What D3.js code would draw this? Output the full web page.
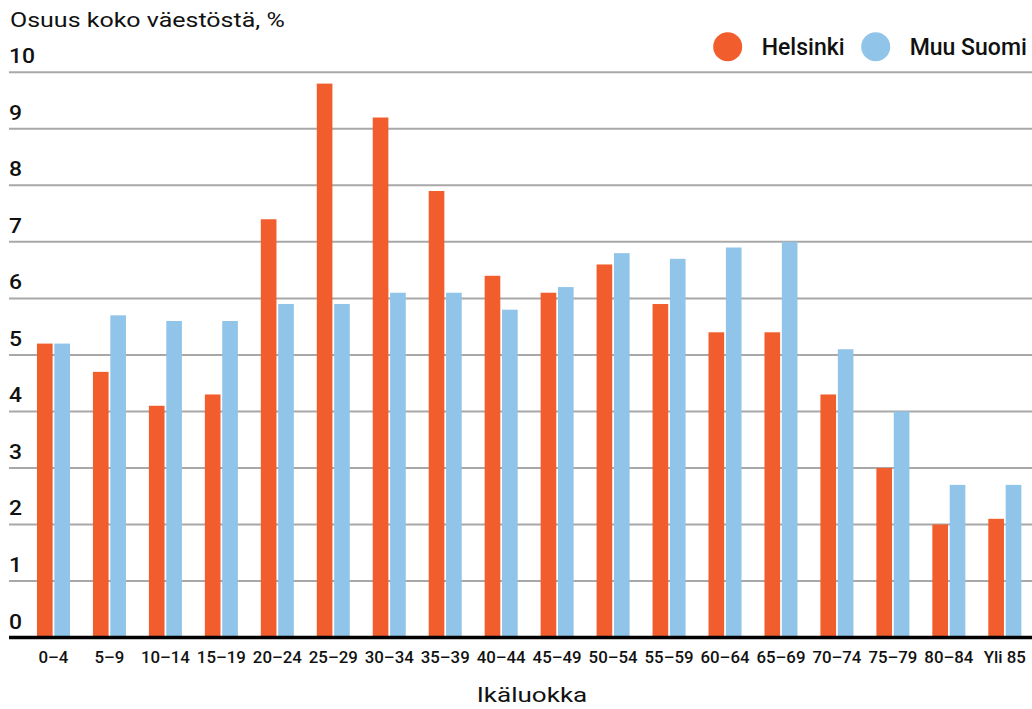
<!DOCTYPE html>
<html>
<head>
<meta charset="utf-8">
<script src="https://cdn.jsdelivr.net/npm/d3@7"></script>
<style>
  html, body { margin: 0; padding: 0; background: #fff; }
  svg { display: block; font-family: Roboto, "Noto Sans", sans-serif; }
</style>
</head>
<body>
<svg id="chart" width="1032" height="709"></svg>
<script>
const categories = ["0–4","5–9","10–14","15–19","20–24","25–29","30–34","35–39","40–44","45–49","50–54","55–59","60–64","65–69","70–74","75–79","80–84","Yli 85"];
const seriesNames = ["Helsinki", "Muu Suomi"];
const helsinki = [5.2,4.7,4.1,4.3,7.4,9.8,9.2,7.9,6.4,6.1,6.6,5.9,5.4,5.4,4.3,3.0,2.0,2.1];
const muuSuomi = [5.2,5.7,5.6,5.6,5.9,5.9,6.1,6.1,5.8,6.2,6.8,6.7,6.9,7.0,5.1,4.0,2.7,2.7];
const yTicks = [0,1,2,3,4,5,6,7,8,9,10];
const colors = ["#f15d2d", "#90c4e9"];

const svg = d3.select("#chart");
const y = d3.scaleLinear().domain([0, 10]).range([637.5, 72.3]);
const x0 = d3.scaleBand().domain(categories).range([25.5, 1032.8]).paddingInner(0.41).paddingOuter(0.205);
const x1 = d3.scaleBand().domain(seriesNames).range([0, x0.bandwidth()]).paddingInner(0.1);
const color = d3.scaleOrdinal().domain(seriesNames).range(colors);

// widen text horizontally by a factor, keeping the glyph height
function stretch(sel, f) {
  sel.each(function () {
    const len = this.getComputedTextLength();
    d3.select(this).attr("textLength", len * f).attr("lengthAdjust", "spacingAndGlyphs");
  });
}

// gridlines
svg.append("g").selectAll("line").data(yTicks.filter(d => d > 0)).join("line")
  .attr("x1", 9).attr("x2", 1032)
  .attr("y1", d => y(d)).attr("y2", d => y(d))
  .attr("stroke", "#a8a8a8").attr("stroke-width", 2);

// y tick labels
svg.append("g").selectAll("text").data(yTicks).join("text")
  .attr("x", 9).attr("y", d => y(d) - 9)
  .attr("font-size", 21).attr("font-weight", 500).attr("fill", "#111")
  .text(d => d)
  .call(stretch, 1.09);

// bars
const rows = categories.map((c, i) => ({cat: c, vals: [helsinki[i], muuSuomi[i]]}));
const groups = svg.append("g").selectAll("g").data(rows).join("g")
  .attr("transform", d => `translate(${x0(d.cat)},0)`);
groups.selectAll("rect").data(d => seriesNames.map((s, j) => ({s, v: d.vals[j]}))).join("rect")
  .attr("x", d => x1(d.s)).attr("width", x1.bandwidth())
  .attr("y", d => y(d.v)).attr("height", d => y(0) - y(d.v))
  .attr("fill", d => color(d.s));

// baseline
svg.append("line").attr("x1", 9).attr("x2", 1032).attr("y1", y(0)).attr("y2", y(0))
  .attr("stroke", "#000").attr("stroke-width", 3.5);

// x labels
svg.append("g").selectAll("text").data(categories).join("text")
  .attr("x", d => x0(d) + x0.bandwidth() / 2).attr("y", 663)
  .attr("text-anchor", "middle").attr("font-size", 16).attr("font-weight", 500).attr("fill", "#111")
  .text(d => d)
  .call(stretch, 1.05);

// axis title
svg.append("text").attr("x", 532).attr("y", 702).attr("text-anchor", "middle")
  .attr("font-size", 21).attr("fill", "#111").text("Ikäluokka")
  .call(stretch, 1.24);

// y title
svg.append("text").attr("x", 10).attr("y", 27)
  .attr("font-size", 21).attr("fill", "#111").text("Osuus koko väestöstä, %")
  .call(stretch, 1.19);

// legend
const legendX = [727.7, 875.7];
const lg = svg.append("g").selectAll("g").data(seriesNames).join("g")
  .attr("transform", (d, i) => `translate(${legendX[i]},46.7)`);
lg.append("circle").attr("r", 14.5).attr("fill", d => color(d));
lg.append("text").attr("x", 34).attr("y", 8.5)
  .attr("font-size", 23).attr("font-weight", 500).attr("fill", "#111").text(d => d);
</script>
</body>
</html>
